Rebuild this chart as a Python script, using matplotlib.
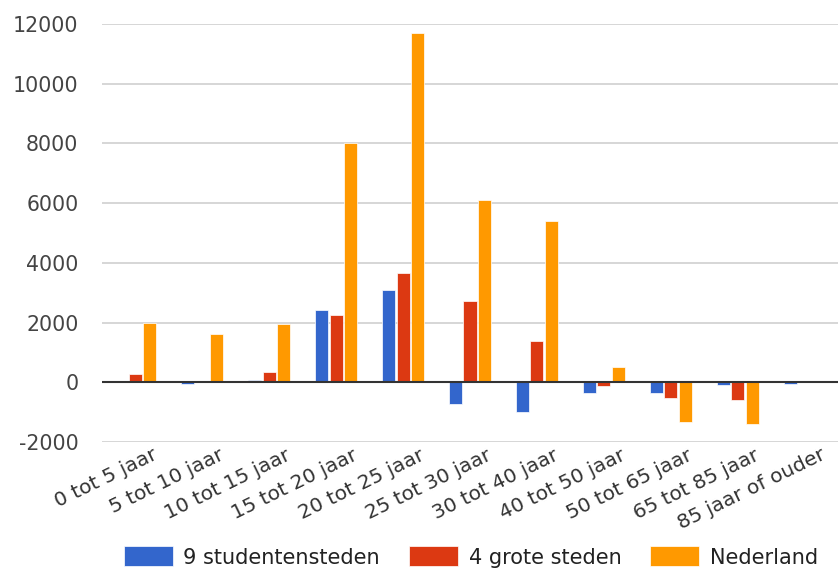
import matplotlib
matplotlib.use('Agg')
import matplotlib.pyplot as plt
import matplotlib.transforms as mtrans
import numpy as np

categories = ['0 tot 5 jaar', '5 tot 10 jaar', '10 tot 15 jaar', '15 tot 20 jaar',
              '20 tot 25 jaar', '25 tot 30 jaar', '30 tot 40 jaar', '40 tot 50 jaar',
              '50 tot 65 jaar', '65 tot 85 jaar', '85 jaar of ouder']
studentensteden = [0, -70, 90, 2430, 3080, -720, -1010, -345, -345, -100, -60]
grote_steden = [270, 0, 330, 2245, 3650, 2730, 1375, -110, -520, -580, 0]
nederland = [2000, 1630, 1950, 8000, 11700, 6100, 5400, 500, -1330, -1395, 0]
series_names = ['9 studentensteden', '4 grote steden', 'Nederland']
colors = ['#3366cc', '#dc3912', '#ff9900']
yticks = [-2000, 0, 2000, 4000, 6000, 8000, 10000, 12000]

plt.rcParams['font.family'] = ['DejaVu Sans']

fig = plt.figure(figsize=(8.38, 5.68), dpi=100)
ax = fig.add_axes([102 / 838, 1 - 442 / 568, 736 / 838, (442 - 24) / 568])

x = np.arange(len(categories))
w = 0.195
for i, (vals, name, c) in enumerate(zip([studentensteden, grote_steden, nederland], series_names, colors)):
    ax.bar(x + (i - 1) * 0.217, vals, w, color=c, label=name,
           edgecolor='white', linewidth=0.5, zorder=3)

ax.set_xlim(-0.5, len(categories) - 0.5)
ax.set_ylim(-2000, 12000)
ax.set_yticks(yticks)
ax.set_yticklabels([str(t) for t in yticks], fontsize=14.8, color='#444444')
ax.tick_params(axis='y', length=0, pad=17)
ax.tick_params(axis='x', length=0, pad=1)
ax.set_xticks(x)
ax.set_xticklabels(categories, rotation=26, ha='right', rotation_mode='anchor',
                   fontsize=14.5, color='#333333')
shift = mtrans.ScaledTranslation(16 / 100, -2 / 100, fig.dpi_scale_trans)
for t in ax.get_xticklabels():
    t.set_transform(t.get_transform() + shift)
ax.grid(axis='y', color='#cccccc', linewidth=1.1, zorder=0)
ax.axhline(0, color='#333333', linewidth=1.5, zorder=4)
for s in ax.spines.values():
    s.set_visible(False)

leg = fig.legend(loc='center left', bbox_to_anchor=(124 / 838, 1 - 557 / 568), ncol=3,
                 frameon=False, fontsize=15, handlelength=2.35, handleheight=1.1,
                 columnspacing=1.4, handletextpad=0.5, borderpad=0, borderaxespad=0)
for t in leg.get_texts():
    t.set_color('#222222')

fig.savefig('out.png', dpi=100)
